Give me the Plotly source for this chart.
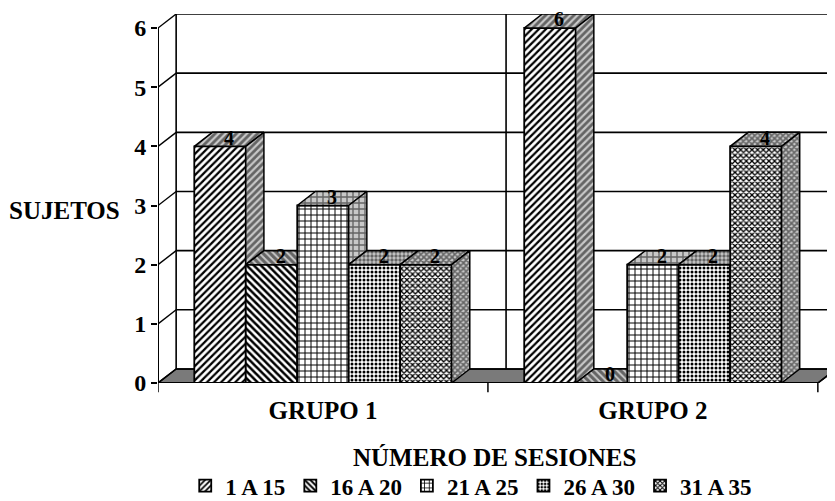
import plotly.graph_objects as go

# ---------------- data ----------------
groups = ["GRUPO 1", "GRUPO 2"]
series_names = ["1 A 15", "16 A 20", "21 A 25", "26 A 30", "31 A 35"]
v_1a15 = [4, 6]
v_16a20 = [2, 0]
v_21a25 = [3, 2]
v_26a30 = [2, 2]
v_31a35 = [2, 4]
y_ticks = [0, 1, 2, 3, 4, 5, 6]

series_values = [v_1a15, v_16a20, v_21a25, v_26a30, v_31a35]

# ---------------- style ----------------
FONT = "Liberation Serif, Times New Roman, Times, serif"
patterns = ["/", "\\", "+", ".", "x"]
pattern_sizes = [5, 5, 6, 4, 4]
pattern_sol = [0.45, 0.5, 0.3, 0.45, 0.55]
BAR_W = 0.156          # bar width in category units
DX = 0.055             # 3-D depth (x, axis units)
DY = 0.237             # 3-D depth (y, axis units)
YMAX = max(y_ticks)
gx = list(range(len(groups)))

fig = go.Figure()

# front faces (real bars)
for i, (name, vals) in enumerate(zip(series_names, series_values)):
    off = -2.5 * BAR_W + i * BAR_W
    fig.add_trace(go.Bar(
        x=gx, y=vals, name=f"<b>{name}</b>",
        width=BAR_W, offset=off,
        marker=dict(
            color="white",
            line=dict(color="black", width=1.8),
            pattern=dict(shape=patterns[i], fgcolor="black", bgcolor="white",
                         size=pattern_sizes[i], solidity=pattern_sol[i],
                         fillmode="replace"),
        ),
        hoverinfo="skip",
    ))

# top and side faces (3-D look), derived from the same values
def face(xs, ys, i):
    fig.add_trace(go.Scatter(
        x=xs + [xs[0]], y=ys + [ys[0]], mode="lines", fill="toself",
        line=dict(color="black", width=1.5),
        fillcolor="white",
        fillpattern=dict(shape=patterns[i], fgcolor="black", bgcolor="#c8c8c8",
                         size=pattern_sizes[i], solidity=min(pattern_sol[i] + 0.1, 0.9)),
        showlegend=False, hoverinfo="skip",
    ))

for i, vals in enumerate(series_values):
    off = -2.5 * BAR_W + i * BAR_W
    for g in gx:
        v = vals[g]
        vn = series_values[i + 1][g] if i + 1 < len(series_values) else 0
        x0 = g + off
        x1 = x0 + BAR_W
        if vn > v:
            face([x0, x0 + DX, x1, x1], [v, v + DY, v + DY, v], i)
        else:
            face([x0, x0 + DX, x1 + DX, x1], [v, v + DY, v + DY, v], i)
        if vn < v:
            face([x1, x1, x1 + DX, x1 + DX], [vn, v, v + DY, vn + DY], i)

# value labels (annotations, derived from the values)
annotations = []
for i, vals in enumerate(series_values):
    off = -2.5 * BAR_W + i * BAR_W
    for g in gx:
        annotations.append(dict(
            x=g + off + BAR_W / 2 + DX / 2, y=vals[g] + DY - 0.09,
            xref="x", yref="y", text=f"<b>{vals[g]}</b>", showarrow=False,
            xanchor="center", yanchor="middle",
            font=dict(family=FONT, size=20, color="black"),
        ))

# ---------------- frame (3-D box) ----------------
xl, xr = -0.5, len(groups) - 0.5
shapes = []
# floor
shapes.append(dict(type="path", xref="x", yref="y", layer="below",
                   path=f"M{xl},0 L{xl + DX},{DY} L{xr + DX},{DY} L{xr},0 Z",
                   fillcolor="#7a7a7a", line=dict(color="black", width=1.5)))
# back gridlines + diagonal tick connectors
for t in y_ticks:
    shapes.append(dict(type="line", xref="x", yref="y", layer="below",
                       x0=xl + DX, x1=xr + DX, y0=t + DY, y1=t + DY,
                       line=dict(color="black", width=1.6)))
    shapes.append(dict(type="line", xref="x", yref="y", layer="below",
                       x0=xl, x1=xl + DX, y0=t, y1=t + DY,
                       line=dict(color="black", width=1.4)))
# back wall verticals (left edge and category separator)
for xb in [xl, 0.5]:
    shapes.append(dict(type="line", xref="x", yref="y", layer="below",
                       x0=xb + DX, x1=xb + DX, y0=DY, y1=YMAX + DY,
                       line=dict(color="black", width=1.6)))
# front axis lines
shapes.append(dict(type="line", xref="x", yref="y", layer="above",
                   x0=xl, x1=xl, y0=0, y1=YMAX, line=dict(color="black", width=2)))
shapes.append(dict(type="line", xref="x", yref="y", layer="above",
                   x0=xl, x1=xr, y0=0, y1=0, line=dict(color="black", width=2)))
shapes.append(dict(type="line", xref="x", yref="y", layer="above",
                   x0=xr, x1=xr + DX, y0=0, y1=DY, line=dict(color="black", width=1.5)))
# category boundary ticks below the axis
for xb in [xl, 0.5, xr]:
    shapes.append(dict(type="line", xref="x", yref="paper", layer="above",
                       x0=xb, x1=xb, y0=0, y1=-0.025, line=dict(color="black", width=1.5)))

annotations += [
    dict(text="<b>SUJETOS</b>", xref="paper", yref="y", x=0, y=2.92,
         xanchor="right", yanchor="middle", xshift=-36, showarrow=False,
         font=dict(family=FONT, size=25, color="black")),
    dict(text="<b>NÚMERO DE SESIONES</b>", xref="paper", yref="paper",
         x=0.497, y=-0.203, xanchor="center", yanchor="middle", showarrow=False,
         font=dict(family=FONT, size=25, color="black")),
]

fig.update_layout(
    width=835, height=501,
    paper_bgcolor="white", plot_bgcolor="white",
    barmode="overlay",
    margin=dict(l=150, r=7, t=6, b=126, autoexpand=False),
    font=dict(family=FONT, size=16, color="black"),
    showlegend=True,
    legend=dict(
        orientation="h", x=0.462, xanchor="center", y=-0.278, yanchor="middle",
        font=dict(family=FONT, size=23, color="black"),
        itemwidth=30, traceorder="normal",
    ),
    xaxis=dict(
        automargin=False, range=[xl, xr + DX],
        tickvals=gx, ticktext=[f"<b>{g}</b>" for g in groups],
        tickfont=dict(family=FONT, size=25, color="black"),
        ticks="", showline=False, showgrid=False, zeroline=False,
        ticklabelstandoff=10,
    ),
    yaxis=dict(
        automargin=False, range=[0, YMAX + DY],
        tickvals=y_ticks, ticktext=[f"<b>{v}</b>" for v in y_ticks],
        tickfont=dict(family=FONT, size=24, color="black"),
        ticks="outside", ticklen=6, tickcolor="black", tickwidth=1.5,
        showline=False, showgrid=False, zeroline=False,
    ),
    annotations=annotations,
    shapes=shapes,
)

fig.write_html("out.html")
